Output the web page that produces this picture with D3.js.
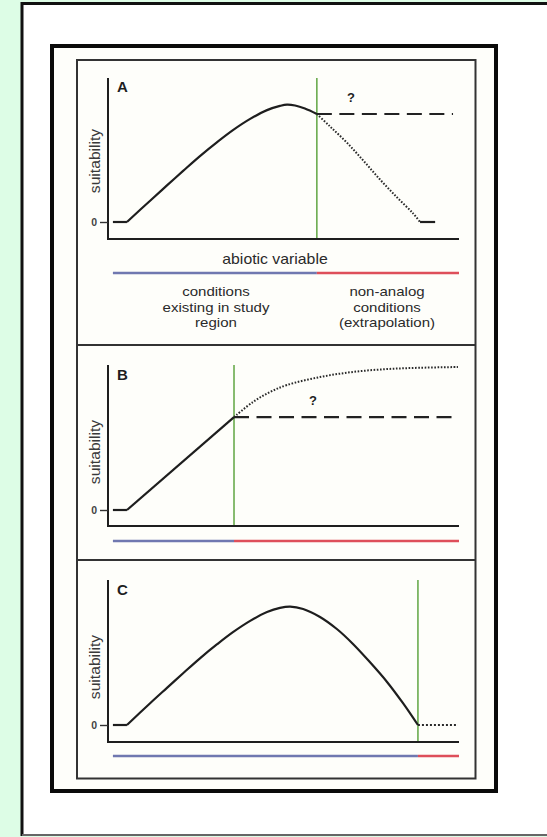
<!DOCTYPE html>
<html>
<head>
<meta charset="utf-8">
<script src="https://cdn.jsdelivr.net/npm/d3@7"></script>
<style>
  html, body { margin: 0; padding: 0; background: #ddfde6; }
  svg { display: block; font-family: "Liberation Sans", Arial, sans-serif; }
</style>
</head>
<body>
<div class="graph-container"></div>
<script>
// ---- data (x = abiotic variable 0..100, y = suitability 0..1) ----
const panelLabels = ['A', 'B', 'C'];
const zeroTick = [0];
const baseX = [1.4, 5.4];            // flat start at zero suitability
const baseY = [0, 0];

// panel A
const aSolidX = [5.4, 12.0, 16.8, 21.4, 26.2, 31.1, 35.6, 40.5, 45.3, 49.0, 51.0, 53.3, 56.1, 59.5];
const aSolidY = [0, 0.148, 0.254, 0.355, 0.458, 0.555, 0.638, 0.716, 0.777, 0.806, 0.815, 0.809, 0.788, 0.75];
const aDottedX = [59.5, 63.2, 68.1, 72.8, 77.5, 82.3, 86.9, 88.9];
const aDottedY = [0.75, 0.665, 0.55, 0.425, 0.295, 0.172, 0.06, 0];
const aTailX = [88.9, 93.2];
const aTailY = [0, 0];
const aDashedX = [59.5, 98.3];
const aDashedY = [0.75, 0.75];
const aThreshold = 59.5;

// panel B
const bSolidX = [5.4, 35.9];
const bSolidY = [0, 0.641];
const bDottedX = [35.9, 41.3, 46.2, 51.0, 60.4, 69.8, 79.5, 88.9, 99.7];
const bDottedY = [0.641, 0.745, 0.814, 0.862, 0.917, 0.952, 0.972, 0.981, 0.986];
const bDashedX = [35.9, 100];
const bDashedY = [0.641, 0.641];
const bThreshold = 35.9;

// panel C
const cSolidX = [5.4, 12.0, 16.8, 21.4, 26.2, 31.1, 35.6, 40.5, 45.3, 49.0, 51.9, 55.6, 60.4, 65.2, 69.8, 74.6, 79.5, 84.0, 88.3];
const cSolidY = [0, 0.15, 0.256, 0.357, 0.46, 0.557, 0.64, 0.718, 0.779, 0.808, 0.817, 0.8, 0.745, 0.662, 0.559, 0.434, 0.297, 0.152, 0];
const cDottedX = [88.3, 99.7];
const cDottedY = [0, 0];
const cThreshold = 88.3;

// texts
const xTitle = 'abiotic variable';
const yTitle = 'suitability';
const leftNote = ['conditions', 'existing in study', 'region'];
const rightNote = ['non-analog', 'conditions', '(extrapolation)'];

// ---- layout ----
const w = 547;
const h = 837;
const green = '#6aab4e';
const blue = '#7078b0';
const red = '#de4f5a';
const ink = '#1e1e1e';

const svg = d3.select('.graph-container')
    .append('svg')
    .attr('width', w)
    .attr('height', h);

// outer white page
svg.append('rect')
    .attr('x', 22).attr('y', 3.5)
    .attr('width', 560).attr('height', 831)
    .attr('fill', '#fff');
svg.append('path')
    .attr('d', 'M22,836 V3.5 H560')
    .attr('fill', 'none').attr('stroke', '#111').attr('stroke-width', 3);
svg.append('line')
    .attr('x1', 22).attr('x2', 560).attr('y1', 835).attr('y2', 835)
    .attr('stroke', '#666').attr('stroke-width', 2);

// figure frame
svg.append('rect')
    .attr('x', 52).attr('y', 46)
    .attr('width', 444).attr('height', 745)
    .attr('fill', '#fefefa')
    .attr('stroke', '#0a0a0a').attr('stroke-width', 4);

// panel boxes
const panelTops = [60, 345, 560, 778.5];
svg.append('rect')
    .attr('x', 77).attr('y', panelTops[0])
    .attr('width', 398.5).attr('height', panelTops[3] - panelTops[0])
    .attr('fill', 'none').attr('stroke', '#333').attr('stroke-width', 2);
svg.selectAll('line.sep')
    .data(panelTops.slice(1, 3))
    .enter()
    .append('line')
    .attr('class', 'sep')
    .attr('x1', 77).attr('x2', 475.5)
    .attr('y1', d => d).attr('y2', d => d)
    .attr('stroke', '#333').attr('stroke-width', 2);

// shared x scale
const xScale = d3.scaleLinear().domain([0, 100]).range([108, 459]);

const layouts = [
    { axisTop: 78, zeroY: 222, axisY: 239, barY: 273, labelY: 92, titleY: 161 },
    { axisTop: 365, zeroY: 510, axisY: 526, barY: 541, labelY: 380, titleY: 452 },
    { axisTop: 580, zeroY: 725, axisY: 742, barY: 756, labelY: 595, titleY: 667 }
];

const zip = (xs, ys) => xs.map((x, i) => [x, ys[i]]);

function drawPanel(i, parts) {
    const L = layouts[i];
    const yScale = d3.scaleLinear().domain([0, 1]).range([L.zeroY, L.axisTop]);
    const g = svg.append('g');
    const lin = d3.line().x(d => xScale(d[0])).y(d => yScale(d[1]));
    const smooth = d3.line().x(d => xScale(d[0])).y(d => yScale(d[1])).curve(d3.curveCatmullRom.alpha(0.5));

    // green threshold
    g.append('line')
        .attr('x1', xScale(parts.threshold)).attr('x2', xScale(parts.threshold))
        .attr('y1', L.axisTop).attr('y2', L.axisY)
        .attr('stroke', green).attr('stroke-width', 1.6);

    // axes
    g.append('line')
        .attr('x1', xScale(0)).attr('x2', xScale(0))
        .attr('y1', L.axisTop).attr('y2', L.axisY + 1)
        .attr('stroke', ink).attr('stroke-width', 2);
    g.append('line')
        .attr('x1', xScale(0)).attr('x2', xScale(100))
        .attr('y1', L.axisY).attr('y2', L.axisY)
        .attr('stroke', ink).attr('stroke-width', 2.2);
    const yAxis = d3.axisLeft(yScale)
        .tickValues(zeroTick)
        .tickFormat(d3.format('d'))
        .tickSize(8).tickPadding(3);
    const ax = g.append('g')
        .attr('transform', `translate(${xScale(0)}, 0)`)
        .call(yAxis);
    ax.select('.domain').remove();
    ax.selectAll('line').attr('stroke', '#333').attr('stroke-width', 1.4);
    ax.selectAll('text')
        .attr('font-size', 10.5).attr('font-weight', 'bold')
        .attr('fill', '#444')
        .attr('font-family', '"Liberation Sans", Arial, sans-serif');

    // panel letter
    g.append('text')
        .text(panelLabels[i])
        .attr('x', 117).attr('y', L.labelY)
        .attr('font-size', 15).attr('font-weight', 'bold').attr('fill', ink);

    // y title
    g.append('text')
        .text(yTitle)
        .attr('transform', `translate(100, ${L.titleY}) rotate(-90) scale(1.08, 1)`)
        .attr('text-anchor', 'middle')
        .attr('font-size', 14.5).attr('fill', '#3a3a3a');

    // curves
    g.append('path')
        .attr('d', lin(zip(baseX, baseY)))
        .attr('fill', 'none').attr('stroke', ink).attr('stroke-width', 2.2);
    g.append('path')
        .attr('d', (parts.solidLinear ? lin : smooth)(zip(parts.solidX, parts.solidY)))
        .attr('fill', 'none').attr('stroke', ink).attr('stroke-width', 2.2)
        .attr('stroke-linejoin', 'round');
    if (parts.dottedX) {
        g.append('path')
            .attr('d', smooth(zip(parts.dottedX, parts.dottedY)))
            .attr('fill', 'none').attr('stroke', '#2a2a2a').attr('stroke-width', 2)
            .attr('stroke-dasharray', parts.dotPattern || '1.6,1.6');
    }
    if (parts.tailX) {
        g.append('path')
            .attr('d', lin(zip(parts.tailX, parts.tailY)))
            .attr('fill', 'none').attr('stroke', ink).attr('stroke-width', 2.2);
    }
    if (parts.dashedX) {
        g.append('path')
            .attr('d', lin(zip(parts.dashedX, parts.dashedY)))
            .attr('fill', 'none').attr('stroke', '#222').attr('stroke-width', 2.2)
            .attr('stroke-dasharray', '15,7.5');
        g.append('text')
            .text('?')
            .attr('x', parts.qX).attr('y', parts.qY)
            .attr('text-anchor', 'middle')
            .attr('font-size', 13).attr('font-weight', 'bold').attr('fill', ink);
    }

    // conditions bar
    g.append('line')
        .attr('x1', xScale(baseX[0])).attr('x2', xScale(parts.threshold))
        .attr('y1', L.barY).attr('y2', L.barY)
        .attr('stroke', blue).attr('stroke-width', 2.6);
    g.append('line')
        .attr('x1', xScale(parts.threshold)).attr('x2', xScale(100))
        .attr('y1', L.barY).attr('y2', L.barY)
        .attr('stroke', red).attr('stroke-width', 2.6);
}

drawPanel(0, {
    threshold: aThreshold,
    solidX: aSolidX, solidY: aSolidY,
    dottedX: aDottedX, dottedY: aDottedY,
    tailX: aTailX, tailY: aTailY,
    dashedX: aDashedX, dashedY: aDashedY,
    qX: 351, qY: 102
});
drawPanel(1, {
    threshold: bThreshold,
    solidX: bSolidX, solidY: bSolidY, solidLinear: true,
    dottedX: bDottedX, dottedY: bDottedY,
    dashedX: bDashedX, dashedY: bDashedY,
    qX: 313, qY: 405
});
drawPanel(2, {
    threshold: cThreshold,
    solidX: cSolidX, solidY: cSolidY,
    dottedX: cDottedX, dottedY: cDottedY, dotPattern: '2,2'
});

// panel A annotations (source figure is slightly stretched horizontally)
function stretchedText(str, x, y, size) {
    svg.append('text')
        .text(str)
        .attr('transform', `translate(${x}, ${y}) scale(1.13, 1)`)
        .attr('text-anchor', 'middle')
        .attr('font-size', size).attr('fill', '#2a2a2a');
}
stretchedText(xTitle, 275, 264, 14);
leftNote.forEach((d, i) => stretchedText(d, 216, 296 + i * 15.5, 13.3));
rightNote.forEach((d, i) => stretchedText(d, 387, 296 + i * 15.5, 13.3));
</script>
</body>
</html>
